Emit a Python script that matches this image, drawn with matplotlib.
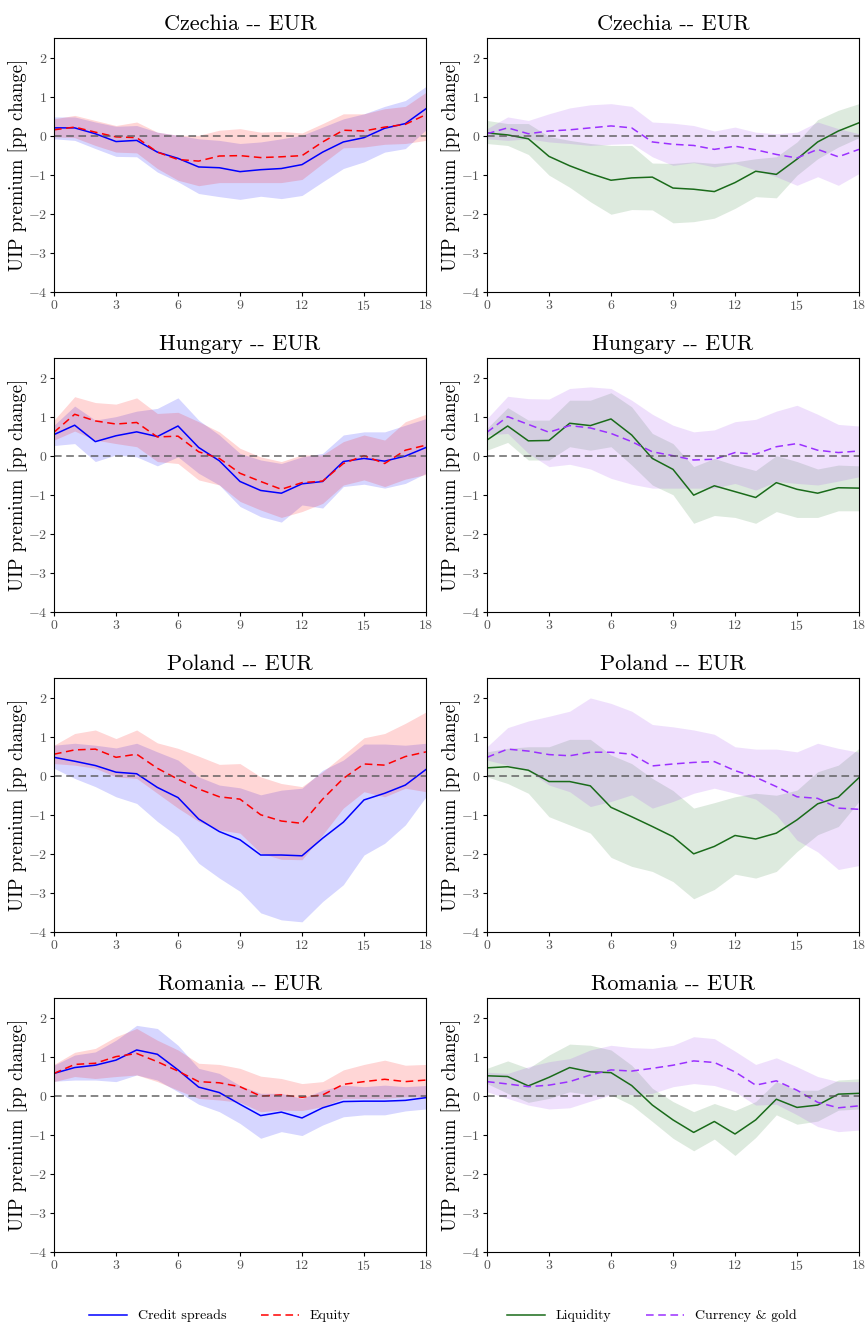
import numpy as np
import matplotlib
matplotlib.use('Agg')
import matplotlib.pyplot as plt

plt.rcParams['font.family'] = 'serif'
plt.rcParams['font.serif'] = ['cmr10', 'DejaVu Serif']
plt.rcParams['mathtext.fontset'] = 'cm'
plt.rcParams['axes.unicode_minus'] = False
plt.rcParams['axes.formatter.use_mathtext'] = True

horizon = np.arange(19)
countries = ['Czechia', 'Hungary', 'Poland', 'Romania']

# ---- Czechia ----
cz_credit    = [0.2, 0.2, 0.05, -0.15, -0.12, -0.42, -0.58, -0.8, -0.82, -0.92, -0.87, -0.84, -0.74, -0.42, -0.16, -0.05, 0.19, 0.31, 0.69]
cz_credit_hi = [0.48, 0.48, 0.35, 0.24, 0.26, 0.09, 0.01, -0.08, -0.12, -0.2, -0.16, -0.08, 0.01, 0.22, 0.43, 0.56, 0.75, 0.9, 1.26]
cz_credit_lo = [-0.08, -0.12, -0.33, -0.53, -0.54, -0.93, -1.18, -1.48, -1.56, -1.63, -1.55, -1.61, -1.53, -1.18, -0.84, -0.67, -0.42, -0.33, 0.15]
cz_equity    = [0.15, 0.22, 0.09, -0.03, -0.05, -0.42, -0.61, -0.65, -0.52, -0.51, -0.56, -0.54, -0.51, -0.16, 0.14, 0.12, 0.22, 0.29, 0.54]
cz_equity_hi = [0.43, 0.52, 0.39, 0.26, 0.35, 0.09, 0.01, 0.01, 0.14, 0.18, 0.09, 0.11, 0.07, 0.31, 0.56, 0.56, 0.69, 0.75, 1.11]
cz_equity_lo = [-0.03, -0.05, -0.25, -0.42, -0.44, -0.84, -1.14, -1.28, -1.2, -1.2, -1.2, -1.2, -1.12, -0.71, -0.31, -0.29, -0.22, -0.2, -0.12]
cz_liq       = [0.07, 0.02, -0.08, -0.53, -0.77, -0.97, -1.14, -1.08, -1.06, -1.34, -1.37, -1.43, -1.2, -0.91, -0.99, -0.6, -0.16, 0.12, 0.33]
cz_liq_hi    = [0.39, 0.31, 0.31, -0.02, -0.12, -0.2, -0.25, -0.25, -0.7, -0.71, -0.67, -0.71, -0.67, -0.59, -0.54, -0.16, 0.41, 0.65, 0.82]
cz_liq_lo    = [-0.2, -0.25, -0.48, -1.01, -1.32, -1.69, -2.01, -1.89, -1.9, -2.23, -2.2, -2.11, -1.86, -1.56, -1.59, -1.01, -0.59, -0.29, -0.05]
cz_fx        = [0.05, 0.2, 0.05, 0.12, 0.15, 0.2, 0.25, 0.2, -0.16, -0.22, -0.25, -0.35, -0.27, -0.36, -0.48, -0.57, -0.35, -0.54, -0.35]
cz_fx_hi     = [0.18, 0.48, 0.39, 0.56, 0.71, 0.79, 0.82, 0.75, 0.35, 0.32, 0.26, 0.12, 0.22, 0.09, 0.05, 0.09, 0.35, 0.18, 0.05]
cz_fx_lo     = [-0.08, -0.12, -0.08, -0.16, -0.2, -0.25, -0.22, -0.2, -0.54, -0.76, -0.69, -0.8, -0.71, -0.88, -1.05, -1.27, -1.05, -1.27, -0.97]

# ---- Hungary ----
hu_credit    = [0.54, 0.78, 0.36, 0.51, 0.61, 0.49, 0.76, 0.21, -0.13, -0.66, -0.89, -0.96, -0.72, -0.66, -0.15, -0.07, -0.14, -0.01, 0.21]
hu_credit_hi = [0.78, 1.27, 0.91, 1.0, 1.14, 1.21, 1.48, 0.91, 0.53, 0.06, -0.11, -0.2, -0.03, 0.06, 0.53, 0.61, 0.61, 0.78, 0.95]
hu_credit_lo = [0.26, 0.31, -0.15, 0.02, -0.03, -0.26, -0.03, -0.45, -0.75, -1.3, -1.56, -1.7, -1.26, -1.34, -0.79, -0.73, -0.83, -0.71, -0.45]
hu_equity    = [0.6, 1.06, 0.89, 0.81, 0.85, 0.48, 0.5, 0.1, -0.07, -0.45, -0.66, -0.86, -0.69, -0.65, -0.2, 0.0, -0.2, 0.14, 0.27]
hu_equity_hi = [0.91, 1.51, 1.36, 1.32, 1.48, 1.08, 1.11, 0.87, 0.61, 0.19, -0.03, -0.15, 0.02, 0.02, 0.36, 0.53, 0.4, 0.87, 1.06]
hu_equity_lo = [0.4, 0.63, 0.4, 0.31, 0.23, -0.15, -0.2, -0.62, -0.75, -1.17, -1.39, -1.58, -1.43, -1.22, -0.75, -0.62, -0.79, -0.6, -0.48]
hu_liq       = [0.4, 0.76, 0.38, 0.39, 0.83, 0.77, 0.94, 0.53, -0.07, -0.35, -1.01, -0.77, -0.92, -1.07, -0.69, -0.86, -0.96, -0.82, -0.83]
hu_liq_hi    = [0.7, 1.23, 0.91, 0.91, 1.42, 1.42, 1.61, 1.25, 0.57, 0.31, -0.28, -0.07, -0.24, -0.38, 0.0, -0.15, -0.34, -0.24, -0.26]
hu_liq_lo    = [0.14, 0.34, -0.11, -0.11, 0.23, 0.14, 0.23, -0.24, -0.75, -1.0, -1.73, -1.53, -1.58, -1.73, -1.43, -1.58, -1.58, -1.41, -1.41]
hu_fx        = [0.6, 1.0, 0.8, 0.6, 0.77, 0.71, 0.57, 0.36, 0.1, 0.0, -0.11, -0.09, 0.08, 0.04, 0.23, 0.31, 0.14, 0.08, 0.12]
hu_fx_hi     = [0.95, 1.52, 1.46, 1.45, 1.72, 1.76, 1.72, 1.42, 1.06, 0.78, 0.61, 0.66, 0.87, 0.93, 1.14, 1.29, 1.06, 0.8, 0.76]
hu_fx_lo     = [0.53, 0.57, 0.06, -0.28, -0.22, -0.34, -0.58, -0.73, -0.83, -0.83, -0.83, -0.83, -0.71, -0.88, -0.66, -0.71, -0.75, -0.65, -0.54]

# ---- Poland ----
pl_credit    = [0.47, 0.37, 0.26, 0.09, 0.05, -0.3, -0.56, -1.11, -1.43, -1.64, -2.03, -2.03, -2.05, -1.6, -1.19, -0.62, -0.45, -0.24, 0.16]
pl_credit_hi = [0.78, 0.83, 0.78, 0.71, 0.83, 0.61, 0.4, -0.03, -0.24, -0.31, -0.49, -0.37, -0.32, 0.14, 0.4, 0.81, 0.81, 0.78, 0.83]
pl_credit_lo = [0.19, -0.07, -0.28, -0.54, -0.71, -1.17, -1.56, -2.24, -2.62, -2.96, -3.51, -3.69, -3.74, -3.22, -2.79, -2.03, -1.73, -1.26, -0.54]
pl_equity    = [0.55, 0.66, 0.68, 0.47, 0.55, 0.19, -0.09, -0.34, -0.54, -0.6, -1.0, -1.16, -1.22, -0.6, -0.07, 0.3, 0.27, 0.49, 0.61]
pl_equity_hi = [0.78, 1.08, 1.17, 0.95, 1.17, 0.84, 0.7, 0.5, 0.29, 0.31, -0.03, -0.2, -0.28, 0.1, 0.53, 0.97, 1.08, 1.34, 1.63]
pl_equity_lo = [0.31, 0.27, 0.19, -0.03, -0.07, -0.45, -0.83, -1.17, -1.39, -1.47, -1.98, -2.14, -2.15, -1.51, -0.83, -0.41, -0.54, -0.32, -0.41]
pl_liq       = [0.2, 0.23, 0.14, -0.15, -0.15, -0.26, -0.81, -1.05, -1.3, -1.56, -2.0, -1.81, -1.53, -1.62, -1.47, -1.13, -0.72, -0.55, -0.05]
pl_liq_hi    = [0.61, 0.7, 0.74, 0.74, 0.93, 0.93, 0.53, 0.31, -0.07, -0.38, -0.83, -0.69, -0.54, -0.45, -0.5, -0.37, 0.1, 0.27, 0.7]
pl_liq_lo    = [-0.03, -0.2, -0.45, -1.05, -1.26, -1.47, -2.09, -2.32, -2.45, -2.71, -3.15, -2.91, -2.52, -2.62, -2.45, -1.94, -1.51, -1.3, -0.66]
pl_fx        = [0.47, 0.68, 0.63, 0.54, 0.51, 0.6, 0.6, 0.55, 0.25, 0.3, 0.34, 0.36, 0.13, -0.04, -0.28, -0.54, -0.58, -0.83, -0.86]
pl_fx_hi     = [0.74, 1.23, 1.4, 1.52, 1.65, 1.99, 1.85, 1.65, 1.31, 1.25, 1.17, 1.06, 0.74, 0.68, 0.68, 0.61, 0.83, 0.7, 0.6]
pl_fx_lo     = [0.4, 0.27, 0.12, -0.24, -0.41, -0.79, -0.66, -0.49, -0.83, -0.66, -0.45, -0.32, -0.45, -0.6, -1.0, -1.65, -1.95, -2.4, -2.3]

# ---- Romania ----
ro_credit    = [0.57, 0.72, 0.78, 0.91, 1.17, 1.06, 0.66, 0.22, 0.08, -0.22, -0.51, -0.42, -0.57, -0.31, -0.15, -0.14, -0.14, -0.12, -0.05]
ro_credit_hi = [0.78, 1.04, 1.12, 1.42, 1.8, 1.72, 1.29, 0.7, 0.57, 0.26, 0.06, 0.06, -0.07, 0.14, 0.27, 0.23, 0.27, 0.23, 0.26]
ro_credit_lo = [0.37, 0.4, 0.4, 0.36, 0.53, 0.4, 0.1, -0.22, -0.41, -0.71, -1.09, -0.92, -1.02, -0.75, -0.54, -0.49, -0.49, -0.39, -0.34]
ro_equity    = [0.57, 0.8, 0.83, 1.0, 1.08, 0.87, 0.63, 0.36, 0.33, 0.23, -0.01, 0.02, -0.04, 0.02, 0.29, 0.36, 0.42, 0.36, 0.4]
ro_equity_hi = [0.8, 1.11, 1.21, 1.51, 1.72, 1.42, 1.17, 0.83, 0.8, 0.7, 0.5, 0.44, 0.31, 0.36, 0.66, 0.8, 0.91, 0.78, 0.8]
ro_equity_lo = [0.36, 0.49, 0.44, 0.49, 0.53, 0.36, 0.14, -0.07, -0.11, -0.17, -0.41, -0.37, -0.38, -0.28, -0.07, -0.07, -0.07, -0.03, -0.03]
ro_liq       = [0.51, 0.49, 0.25, 0.47, 0.72, 0.61, 0.59, 0.26, -0.24, -0.62, -0.94, -0.66, -0.98, -0.62, -0.09, -0.3, -0.24, 0.04, 0.06]
ro_liq_hi    = [0.7, 0.89, 0.7, 1.04, 1.32, 1.29, 1.17, 0.78, 0.19, -0.15, -0.41, -0.2, -0.38, -0.15, 0.36, 0.14, 0.14, 0.4, 0.43]
ro_liq_lo    = [0.31, 0.06, -0.17, -0.07, 0.1, 0.02, 0.02, -0.24, -0.66, -1.09, -1.41, -1.11, -1.53, -1.07, -0.49, -0.73, -0.65, -0.37, -0.34]
ro_fx        = [0.36, 0.3, 0.23, 0.27, 0.36, 0.53, 0.66, 0.63, 0.7, 0.78, 0.89, 0.85, 0.61, 0.27, 0.38, 0.14, -0.17, -0.31, -0.26]
ro_fx_hi     = [0.6, 0.57, 0.74, 0.87, 0.95, 1.17, 1.29, 1.23, 1.21, 1.29, 1.51, 1.46, 1.14, 0.8, 0.97, 0.74, 0.49, 0.36, 0.36]
ro_fx_lo     = [0.1, -0.07, -0.24, -0.34, -0.31, -0.14, 0.02, 0.03, 0.06, 0.23, 0.31, 0.26, 0.1, -0.24, -0.22, -0.49, -0.79, -0.92, -0.88]

left_data = [
    (cz_credit, cz_credit_lo, cz_credit_hi, cz_equity, cz_equity_lo, cz_equity_hi),
    (hu_credit, hu_credit_lo, hu_credit_hi, hu_equity, hu_equity_lo, hu_equity_hi),
    (pl_credit, pl_credit_lo, pl_credit_hi, pl_equity, pl_equity_lo, pl_equity_hi),
    (ro_credit, ro_credit_lo, ro_credit_hi, ro_equity, ro_equity_lo, ro_equity_hi),
]
right_data = [
    (cz_liq, cz_liq_lo, cz_liq_hi, cz_fx, cz_fx_lo, cz_fx_hi),
    (hu_liq, hu_liq_lo, hu_liq_hi, hu_fx, hu_fx_lo, hu_fx_hi),
    (pl_liq, pl_liq_lo, pl_liq_hi, pl_fx, pl_fx_lo, pl_fx_hi),
    (ro_liq, ro_liq_lo, ro_liq_hi, ro_fx, ro_fx_lo, ro_fx_hi),
]

W, H = 866, 1324
fig = plt.figure(figsize=(W / 100, H / 100), dpi=100)

col_x = [54, 487]
row_top = [38, 358, 678, 998]
ax_w, ax_h = 372, 254

styles = [
    # (color1, fill1, label1, color2, fill2, label2)
    ('#0000ff', '#0000ff', 'Credit spreads', '#ff0000', '#ff0000', 'Equity'),
    ('#1a6b1a', '#2e7d32', 'Liquidity', '#9b30ff', '#a040f0', 'Currency & gold'),
]

legend_handles = [None, None]
for c, data in enumerate([left_data, right_data]):
    c1, f1, l1, c2, f2, l2 = styles[c]
    for r in range(4):
        ax = fig.add_axes([col_x[c] / W, 1 - (row_top[r] + ax_h) / H, ax_w / W, ax_h / H])
        m1, lo1, hi1, m2, lo2, hi2 = data[r]
        ax.fill_between(horizon, lo1, hi1, color=f1, alpha=0.16, linewidth=0)
        ax.fill_between(horizon, lo2, hi2, color=f2, alpha=0.16, linewidth=0)
        h1, = ax.plot(horizon, m1, color=c1, lw=1.1, label=l1)
        h2, = ax.plot(horizon, m2, color=c2, lw=1.1, ls=(0, (5, 3)), label=l2)
        ax.axhline(0, color='#555555', lw=1.1, ls=(0, (5, 3)), alpha=0.9)
        ax.set_xlim(0, 18)
        ax.set_ylim(-4, 2.5)
        ax.set_xticks(np.arange(0, 19, 3))
        ax.set_yticks(np.arange(-4, 3, 1))
        ax.tick_params(labelsize=10, labelcolor='#555555', length=3, pad=2)
        ax.set_title(f'{countries[r]} -- EUR', fontsize=16, pad=6)
        ax.set_ylabel('UIP premium [pp change]', fontsize=13.5)
        ax.yaxis.set_label_coords(-26 / ax_w, 0.5)
        legend_handles[c] = [h1, h2]

fig.legend(handles=legend_handles[0], loc='center', bbox_to_anchor=(220 / W, 1 - 1316 / H),
           ncol=2, frameon=False, fontsize=10, handlelength=2.7, columnspacing=2.5)
fig.legend(handles=legend_handles[1], loc='center', bbox_to_anchor=(652 / W, 1 - 1316 / H),
           ncol=2, frameon=False, fontsize=10, handlelength=2.7, columnspacing=2.5)

plt.savefig('out.png', dpi=100)
